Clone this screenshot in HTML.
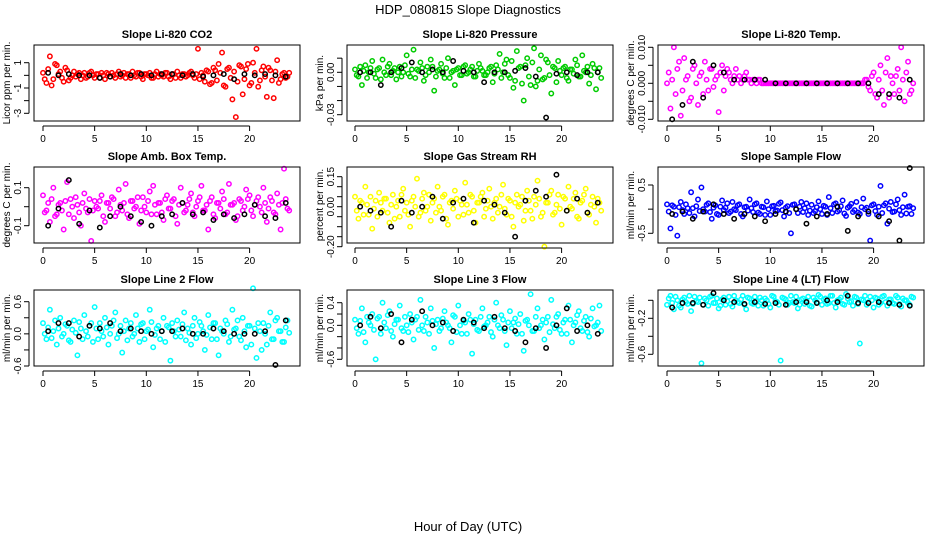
<!DOCTYPE html>
<html><head><meta charset="utf-8"><style>
body{margin:0;background:#fff}
svg{display:block;font-family:"Liberation Sans",Arial,sans-serif}
</style></head><body>
<svg id="chart" width="936" height="540" xmlns="http://www.w3.org/2000/svg">
<text x="468" y="14" text-anchor="middle" font-size="13">HDP_080815  Slope Diagnostics</text>
<text x="468" y="531" text-anchor="middle" font-size="13">Hour of Day (UTC)</text>
</svg>
<script>
const co2Vals=[0.2,-0.6,1.5,-0.3,0.8,0.3,-0.5,0.4,-0.2,0.3,0.1,-0.3,0.2,-0.1,0.3,-0.2,0.1,0.2,-0.3,0.1,0.2,-0.2,0.3,0.0,-0.2,0.1,0.3,-0.1,0.2,-0.3,0.1,0.2,-0.2,0.3,0.1,-0.1,0.2,-0.3,0.1,0.3,-0.2,0.1,0.0,0.3,-0.2,2.1,0.2,-0.5,0.3,-0.6,0.4,0.9,1.8,-0.9,0.6,-1.9,-3.3,0.8,-1.5,0.5,-0.8,1.0,2.1,-0.4,0.7,-1.7,0.4,-1.8,1.2,-0.3,0.2,-0.1];
const co2Vals2=[-0.3,0.5,-0.8,0.9,0.1,-0.2,0.6,-0.4,0.0,-0.1,0.2,0.0,-0.2,0.2,0.0,0.1,-0.2,0.0,0.2,-0.1,0.0,0.1,-0.1,0.2,0.1,-0.2,0.0,0.2,-0.1,0.1,0.0,-0.2,0.1,-0.1,0.0,0.2,-0.1,0.1,-0.2,0.0,0.1,-0.1,0.2,0.0,0.1,-0.3,0.0,0.4,-0.7,0.6,-0.4,0.2,-0.8,0.5,-0.2,0.3,-0.5,0.7,-0.3,0.9,-0.6,0.2,-0.9,0.4,-0.1,0.6,-0.4,0.3,-0.6,0.1,-0.2,0.2];
const co2Black=[0.2,0.0,0.1,0.0,0.0,-0.2,-0.1,0.1,0.0,0.1,0.0,0.1,0.1,0.0,0.1,-0.1,0.0,0.1,-0.3,0.1,0.0,0.1,0.0,-0.1];
const presVals=[0.002,-0.003,-0.009,0.005,0.000,0.008,-0.004,0.003,0.009,-0.002,0.006,0.001,-0.005,0.004,0.000,0.012,-0.003,0.016,0.002,0.007,-0.006,0.004,0.009,-0.013,0.001,0.006,-0.004,0.010,0.000,-0.009,0.003,-0.002,0.005,0.000,0.004,-0.003,0.006,0.001,-0.002,0.003,-0.007,0.005,0.013,0.000,0.009,-0.004,-0.011,0.015,0.004,-0.020,0.010,-0.009,0.017,-0.006,0.012,-0.004,0.007,-0.015,0.003,0.008,-0.002,0.004,-0.006,0.002,0.009,-0.003,0.012,0.000,-0.008,0.006,-0.012,0.003];
const presVals2=[-0.002,0.004,0.001,-0.004,0.003,-0.001,0.002,-0.005,0.000,0.004,-0.002,0.003,0.000,-0.003,0.005,-0.001,0.002,-0.004,0.001,0.003,-0.002,0.000,0.004,-0.003,0.002,-0.001,0.003,-0.004,0.001,0.002,-0.002,0.004,-0.001,0.002,-0.003,0.001,0.003,-0.002,0.000,0.004,-0.001,0.002,-0.004,0.006,-0.002,0.008,-0.006,0.003,-0.008,0.005,-0.003,0.007,-0.010,0.002,-0.005,0.009,-0.002,0.004,-0.007,0.001,0.003,-0.004,0.002,-0.001,0.005,-0.003,0.001,0.004,-0.002,0.003,0.000,-0.004];
const presBlack=[0.000,0.000,-0.009,0.000,0.003,0.007,0.000,0.002,0.000,0.008,0.001,0.000,-0.007,0.000,0.000,0.001,0.003,-0.003,-0.032,-0.001,0.000,-0.002,0.000,0.000];
const tempVals=[0.000,-0.007,0.010,0.004,-0.009,0.007,0.002,-0.004,0.005,-0.006,0.003,0.006,-0.002,0.004,0.001,-0.008,0.005,0.002,0.003,0.000,0.004,0.002,0.001,0.003,0.001,0.001,0.000,0.001,0.000,0.000,0.000,0.000,0.000,0.000,0.000,0.000,0.000,0.000,0.000,0.000,0.000,0.000,0.000,0.000,0.000,0.000,0.000,0.000,0.000,0.000,0.000,0.000,0.000,0.000,0.000,0.000,0.000,0.000,0.001,-0.002,0.003,-0.004,0.005,-0.006,0.007,0.002,-0.003,0.004,0.010,-0.005,0.006,-0.002];
const tempVals2=[0.003,0.001,-0.003,0.006,-0.002,0.001,-0.005,0.004,0.000,0.002,-0.003,0.001,0.004,-0.001,0.002,0.003,-0.002,0.004,0.001,0.002,0.001,0.000,0.002,0.001,0.000,0.001,0.001,0.000,0.000,0.000,0.000,0.000,0.000,0.000,0.000,0.000,0.000,0.000,0.000,0.000,0.000,0.000,0.000,0.000,0.000,0.000,0.000,0.000,0.000,0.000,0.000,0.000,0.000,0.000,0.000,0.000,0.000,0.001,-0.001,0.002,-0.003,0.001,-0.002,0.003,-0.004,0.000,0.002,-0.002,0.001,0.003,-0.003,0.000];
const tempBlack=[-0.010,-0.006,0.006,-0.004,0.005,0.003,0.001,0.001,0.001,0.001,0.000,0.000,0.000,0.000,0.000,0.000,0.000,0.000,0.000,0.000,-0.003,-0.003,-0.004,0.001];
const ambVals=[0.06,-0.02,-0.08,0.10,-0.04,0.02,-0.12,0.13,0.04,-0.06,0.01,-0.10,0.07,-0.03,-0.18,0.03,-0.01,0.06,-0.08,0.02,0.05,-0.05,0.09,-0.02,0.12,-0.06,0.03,0.00,-0.09,0.05,-0.03,0.08,0.11,-0.04,0.02,-0.07,0.06,-0.01,0.04,-0.09,0.10,-0.03,0.01,0.07,-0.05,0.03,0.11,-0.02,-0.12,0.05,-0.06,0.02,0.08,-0.04,0.12,0.01,-0.07,0.04,-0.02,0.09,0.06,-0.05,0.03,0.00,0.10,-0.08,0.05,-0.03,0.07,-0.12,0.20,-0.01];
const ambVals2=[-0.03,0.02,0.04,-0.05,0.01,-0.02,0.03,-0.04,0.00,0.05,-0.03,0.02,-0.01,0.04,-0.02,0.00,0.03,-0.05,0.02,-0.01,0.04,-0.03,0.01,0.02,-0.04,0.03,-0.01,0.05,-0.02,0.00,0.03,-0.04,0.01,0.02,-0.03,0.04,-0.01,0.03,-0.05,0.01,0.02,-0.02,0.04,-0.03,0.00,0.05,-0.02,0.01,0.03,-0.04,0.02,-0.01,0.04,-0.03,0.01,0.02,-0.05,0.03,0.00,0.04,-0.02,0.01,0.05,-0.03,0.02,-0.01,0.03,-0.04,0.01,0.02,0.04,-0.02];
const ambBlack=[-0.10,-0.01,0.14,-0.09,-0.02,-0.11,-0.05,0.00,-0.05,-0.08,-0.10,-0.05,-0.04,0.02,-0.04,-0.03,-0.07,-0.04,-0.06,-0.04,0.01,-0.05,-0.06,0.02];
const rhVals=[0.05,-0.06,0.02,0.10,-0.04,-0.11,0.03,0.07,-0.02,0.04,-0.08,0.06,0.00,-0.05,0.09,0.02,-0.10,0.05,0.14,-0.03,0.07,0.00,-0.07,0.04,0.10,-0.02,0.06,-0.09,0.03,0.08,-0.05,0.01,0.12,-0.03,0.05,-0.08,0.02,0.07,-0.01,0.09,-0.06,0.04,0.00,0.11,-0.04,0.03,-0.10,0.06,0.01,-0.07,0.08,-0.02,0.05,0.13,-0.05,-0.20,0.02,0.08,-0.03,0.06,-0.09,0.04,0.10,-0.01,0.07,-0.06,0.03,0.09,-0.04,0.05,-0.08,0.02];
const rhVals2=[-0.02,0.03,-0.04,0.01,0.05,-0.01,-0.05,0.02,0.04,-0.03,0.01,-0.06,0.03,0.06,-0.02,-0.04,0.03,0.00,-0.05,0.04,-0.02,0.06,0.02,-0.03,0.00,0.05,-0.06,0.02,-0.01,0.04,0.03,-0.04,0.01,0.06,-0.02,0.02,0.05,-0.05,0.03,0.00,0.02,-0.03,0.06,-0.01,0.04,-0.05,0.02,0.00,0.05,-0.02,0.03,-0.06,0.01,0.04,-0.03,0.02,0.06,-0.04,0.01,-0.01,0.05,-0.02,0.00,0.04,-0.05,0.02,0.06,-0.03,0.01,0.00,0.04,-0.02];
const rhBlack=[0.00,-0.02,-0.03,-0.10,0.03,-0.03,0.00,0.05,-0.06,0.02,0.04,-0.08,0.03,0.01,-0.03,-0.15,0.03,0.08,0.05,0.16,-0.02,0.04,-0.03,0.02];
const sampVals=[0.10,-0.40,0.05,-0.55,0.15,-0.10,0.02,0.35,-0.15,0.20,0.45,-0.05,0.12,-0.20,0.08,-0.12,0.18,0.03,-0.08,0.15,-0.02,0.10,-0.15,0.05,0.20,-0.06,0.12,-0.10,0.04,0.16,-0.12,0.07,-0.03,0.14,-0.15,0.06,-0.50,0.10,-0.08,0.15,0.02,-0.12,0.09,-0.04,0.16,-0.10,0.05,0.25,-0.08,0.12,-0.02,0.18,-0.14,0.06,-0.06,0.15,-0.10,0.22,0.03,-0.65,0.10,-0.12,0.48,0.08,-0.30,0.15,-0.05,0.20,-0.12,0.30,0.05,-0.10];
const sampVals2=[-0.05,0.08,-0.12,0.04,-0.02,0.10,-0.08,0.02,0.06,-0.04,0.00,0.09,-0.06,0.03,-0.10,0.05,-0.02,0.12,-0.05,0.00,0.08,-0.10,0.04,-0.03,0.02,0.10,-0.07,0.05,-0.12,0.00,0.06,-0.04,0.11,-0.02,0.03,-0.08,0.09,0.00,0.05,-0.06,0.12,-0.03,-0.08,0.04,0.00,0.07,-0.12,0.02,0.10,-0.05,0.06,-0.09,0.03,0.11,-0.02,-0.07,0.04,0.00,-0.10,0.08,-0.04,0.05,-0.08,0.12,0.01,-0.06,0.10,-0.02,0.04,-0.09,0.06,0.02];
const sampBlack=[-0.10,-0.05,-0.20,-0.05,0.10,-0.10,-0.20,-0.10,-0.15,-0.25,-0.10,-0.05,0.00,-0.30,-0.15,-0.10,0.05,-0.45,-0.15,-0.05,-0.15,-0.25,-0.65,0.85];
const l2Vals=[0.20,-0.10,0.45,0.05,-0.20,0.30,0.00,0.15,-0.15,0.25,-0.40,0.10,0.35,-0.05,0.20,0.50,-0.10,0.05,0.30,-0.20,0.15,0.40,0.00,-0.35,0.25,0.10,-0.05,0.35,-0.15,0.20,0.05,0.45,-0.25,0.10,-0.10,0.30,0.15,-0.50,0.05,0.25,-0.05,0.40,0.10,-0.20,0.30,0.00,0.15,-0.30,0.35,-0.10,0.20,-0.40,0.05,0.25,-0.15,0.45,0.10,-0.05,0.30,-0.25,0.15,0.85,-0.45,0.05,0.20,-0.20,0.40,-0.10,0.30,0.05,-0.15,0.25];
const l2Vals2=[0.00,0.12,-0.08,0.25,0.10,-0.05,0.18,-0.12,0.08,0.02,0.22,-0.10,0.05,0.15,-0.15,0.10,0.20,-0.05,0.12,0.00,0.25,-0.08,0.15,0.05,-0.12,0.20,0.00,0.10,0.18,-0.10,0.08,0.22,-0.02,0.15,0.05,-0.15,0.12,0.20,-0.05,0.08,0.18,-0.12,0.02,0.15,-0.08,0.22,0.05,-0.02,0.12,0.20,-0.10,0.10,0.00,0.18,-0.05,0.08,0.25,-0.12,0.05,0.15,-0.20,0.10,0.20,-0.30,0.00,0.15,-0.10,0.25,0.05,-0.15,0.12,0.02];
const l2Black=[0.05,0.20,0.20,-0.05,0.15,0.10,0.20,0.05,0.10,0.05,0.00,0.05,0.05,0.10,0.00,0.00,0.10,0.05,0.00,0.00,0.00,0.05,-0.58,0.25];
const l3Vals=[0.10,-0.15,0.30,-0.30,0.05,0.20,-0.60,0.15,0.40,-0.05,0.25,-0.20,0.10,0.35,-0.10,0.00,0.20,-0.25,0.15,0.45,-0.10,0.05,0.30,-0.40,0.10,-0.05,0.25,0.00,-0.30,0.15,0.35,-0.15,0.05,0.20,-0.50,0.10,-0.10,0.30,0.00,0.15,-0.20,0.40,-0.05,0.10,-0.35,0.25,0.05,-0.15,0.20,-0.45,0.10,0.55,-0.10,0.30,0.00,-0.25,0.15,0.45,-0.05,0.20,-0.15,0.10,0.35,-0.30,0.05,0.25,-0.10,0.15,-0.20,0.30,0.00,0.35];
const l3Vals2=[-0.05,0.08,-0.12,0.15,0.00,-0.08,0.12,-0.15,0.05,0.18,-0.10,0.02,0.10,-0.05,0.15,-0.12,0.05,0.10,-0.08,0.00,0.15,-0.15,0.08,0.02,-0.10,0.12,0.05,-0.05,0.18,-0.12,0.00,0.08,-0.15,0.10,0.02,-0.08,0.15,-0.02,0.05,-0.12,0.10,0.00,0.18,-0.10,0.05,-0.05,0.12,0.02,-0.15,0.08,0.00,-0.10,0.15,-0.05,0.10,0.05,-0.12,0.02,0.15,-0.08,0.05,-0.15,0.10,0.00,0.18,-0.05,0.08,-0.12,0.12,-0.02,0.05,-0.10];
const l3Black=[0.00,0.15,-0.05,0.20,-0.30,0.10,0.25,0.00,0.05,-0.10,0.10,0.05,-0.05,0.15,-0.05,-0.10,-0.30,-0.05,-0.40,0.00,0.30,-0.10,0.00,-0.15];
const l4Vals=[-0.05,0.05,-0.10,0.00,-0.08,0.03,-0.04,-0.12,0.04,-0.02,-0.70,0.02,-0.06,0.05,-0.03,-0.09,0.01,-0.05,0.04,-0.07,0.00,-0.03,0.05,-0.10,0.02,-0.04,-0.01,0.03,-0.06,0.00,-0.08,0.04,-0.02,-0.67,0.02,-0.05,0.05,-0.03,-0.09,0.01,-0.04,0.04,-0.07,0.00,0.06,-0.05,0.02,-0.03,0.05,-0.08,0.01,-0.04,0.07,-0.02,-0.06,0.03,-0.48,0.00,-0.05,0.04,-0.08,0.02,-0.03,0.05,-0.06,0.01,-0.04,0.03,-0.07,0.00,-0.03,0.04];
const l4Vals2=[0.02,-0.03,0.04,-0.06,0.01,-0.02,0.05,-0.04,-0.01,0.03,-0.05,0.00,0.04,-0.03,0.02,-0.06,0.03,-0.01,-0.04,0.05,-0.02,0.01,-0.05,0.03,-0.03,0.04,-0.06,0.00,0.02,-0.04,0.05,-0.01,-0.05,0.03,0.01,-0.03,-0.02,0.04,-0.05,0.02,0.00,-0.06,0.03,-0.02,0.04,0.01,-0.04,0.05,-0.03,0.00,0.03,-0.05,0.02,-0.01,0.04,-0.04,0.01,0.05,-0.02,0.00,0.03,-0.05,0.04,-0.02,0.01,-0.03,0.05,-0.04,0.02,0.00,-0.05,0.03];
const l4Black=[-0.08,-0.03,-0.03,-0.05,0.08,0.00,-0.02,-0.04,-0.02,-0.04,-0.03,-0.05,-0.02,-0.02,-0.03,0.00,-0.02,0.05,-0.03,-0.03,-0.02,-0.03,-0.05,-0.06];
const xTicks=[0,5,10,15,20];
const panelTitles=["Slope Li-820 CO2","Slope Li-820 Pressure","Slope Li-820 Temp.","Slope Amb. Box Temp.","Slope Gas Stream RH","Slope Sample Flow","Slope Line 2 Flow","Slope Line 3 Flow","Slope Line 4 (LT) Flow"];
const yTitles=["Licor ppm per min.","kPa per min.","degrees C per min.","degrees C per min.","percent per min.","ml/min per min.","ml/min per min.","ml/min per min.","ml/min per min."];

const NS="http://www.w3.org/2000/svg";
const svg=document.getElementById('chart');
function mk(tag,attrs,parent){const e=document.createElementNS(NS,tag);for(const k in attrs)e.setAttribute(k,attrs[k]);(parent||svg).appendChild(e);return e;}
const cols=[[34,300,43],[347,613,355],[658,924,667]];
const rows=[[45,121],[167,243],[290,366]];
const panels=[
 [[co2Vals,co2Vals2],co2Black,"#ff0000",[1,62.7,-3,113.3],[1,0,-1,-2,-3],["1","","-1","","-3"]],
 [[presVals,presVals2],presBlack,"#00cc00",[0,72.3,-0.03,114.7],[0.01,0,-0.01,-0.02,-0.03],["","0.00","","","-0.03"]],
 [[tempVals,tempVals2],tempBlack,"#ff00ff",[0.01,47.3,-0.01,119.3],[0.01,0.005,0,-0.005,-0.01],["0.010","","0.000","","-0.010"]],
 [[ambVals,ambVals2],ambBlack,"#ff00ff",[0.1,187.7,-0.1,225.7],[0.1,0,-0.1],["0.1","","-0.1"]],
 [[rhVals,rhVals2],rhBlack,"#ffff00",[0.15,176.7,0,206.7],[0.15,0.1,0.05,0,-0.05,-0.1,-0.15,-0.2],["0.15","","","0.00","","","","-0.20"]],
 [[sampVals,sampVals2],sampBlack,"#0000ff",[0.5,185,-0.5,233.3],[0.5,0,-0.5],["0.5","","-0.5"]],
 [[l2Vals,l2Vals2],l2Black,"#00ffff",[0.6,301.7,-0.6,366],[0.6,0.3,0,-0.3,-0.6],["0.6","","0.0","","-0.6"]],
 [[l3Vals,l3Vals2],l3Black,"#00ffff",[0.4,302.7,-0.6,359.3],[0.4,0.2,0,-0.2,-0.4,-0.6],["0.4","","0.0","","","-0.6"]],
 [[l4Vals,l4Vals2],l4Black,"#00ffff",[-0.2,318.3,-0.6,354.3],[0,-0.2,-0.4,-0.6],["","-0.2","","-0.6"]]
];
const pxPerHour=10.33;
panels.forEach((p,i)=>{
  const [series,blk,color,ref,ticks,labels]=p;
  const c=cols[i%3], r=rows[Math.floor(i/3)];
  const g=mk('g',{});
  
  
  const xs=h=>c[2]+h*pxPerHour;
  const ys=v=>ref[1]+(v-ref[0])*(ref[3]-ref[1])/(ref[2]-ref[0]);
  const t=mk('text',{x:(c[0]+c[1])/2,y:r[0]-7,'text-anchor':'middle','font-size':'11','font-weight':'bold'},g);
  t.textContent=panelTitles[i];
  
  
  const cg=mk('g',{fill:'none',stroke:color,'stroke-width':'1.5'},g);
  
  
  series.forEach((vals,s)=>{
    const n=vals.length;
    vals.forEach((v,j)=>{
      const pt=mk('circle',{cx:xs((j+s*0.5)*24/n),cy:ys(v),r:2.2},cg);
      
      
    });
  });
  const bg=mk('g',{fill:'none',stroke:'#000','stroke-width':'1.5'},g);
  
  
  blk.forEach((v,j)=>{
    const pt=mk('circle',{cx:xs(j*24/blk.length+0.5),cy:ys(v),r:2.2},bg);
    
    
  });
  const box=mk('rect',{x:c[0],y:r[0],width:c[1]-c[0],height:r[1]-r[0],fill:'none',stroke:'#000','stroke-width':'1'},g);
  
  
  const xa=mk('g',{},g);
  
  
  mk('line',{x1:xs(0),x2:xs(20),y1:r[1]+5,y2:r[1]+5,stroke:'#000'},xa);
  xTicks.forEach(h=>{
    mk('line',{x1:xs(h),x2:xs(h),y1:r[1]+5,y2:r[1]+10,stroke:'#000'},xa);
    const tl=mk('text',{x:xs(h),y:r[1]+21,'text-anchor':'middle','font-size':'10'},xa);
    tl.textContent=h;
    
    
  });
  const ya=mk('g',{},g);
  
  
  mk('line',{x1:c[0]-5,x2:c[0]-5,y1:ys(ticks[0]),y2:ys(ticks[ticks.length-1]),stroke:'#000'},ya);
  ticks.forEach((v,k)=>{
    const y=ys(v);
    mk('line',{x1:c[0]-10,x2:c[0]-5,y1:y,y2:y,stroke:'#000'},ya);
    if(labels[k]){
      const tl=mk('text',{x:c[0]-13,y:y,'text-anchor':'middle','font-size':'10',transform:`rotate(-90 ${c[0]-13} ${y})`},ya);
      tl.textContent=labels[k];
      
      
    }
  });
  const cy=(r[0]+r[1])/2;
  const yt=mk('text',{x:c[0]-24,y:cy,'text-anchor':'middle','font-size':'10',transform:`rotate(-90 ${c[0]-24} ${cy})`},g);
  yt.textContent=yTitles[i];
  
  
});
</script>
</body></html>
